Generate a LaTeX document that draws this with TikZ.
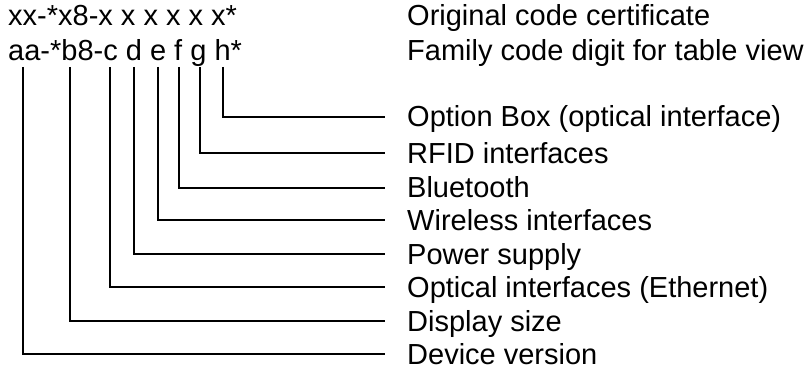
\documentclass[tikz,border=0pt]{standalone}
\usepackage{fontspec}
\setmainfont{Liberation Sans}
\begin{document}
\begin{tikzpicture}[x=1pt,y=-1pt,
  txt/.style={anchor=base west,inner sep=0pt,font=\fontsize{29}{34}\selectfont},
  conn/.style={line width=1.6pt,line cap=butt,line join=miter}]
\useasboundingbox (0,0) rectangle (808,369);
% code rows
\node[txt] (orig) at (8,26) {xx-*x8-x x x x x x*};
\node[txt] (fam) at (8,60) {aa-*b8-c d e f g h*};
\node[txt] (origL) at (407,26) {Original code certificate};
\node[txt] (famL) at (407,60) {Family code digit for table view};
% labels
\node[txt] (lh) at (407,126) {Option Box (optical interface)};
\node[txt] (lg) at (407,163) {RFID interfaces};
\node[txt] (lf) at (407,197) {Bluetooth};
\node[txt] (le) at (407,230) {Wireless interfaces};
\node[txt] (ld) at (407,264) {Power supply};
\node[txt] (lc) at (407,297) {Optical interfaces (Ethernet)};
\node[txt] (lb) at (407,331) {Display size};
\node[txt] (la) at (407,364) {Device version};
% tops of connectors under the letters
\coordinate (ta) at (23,67);
\coordinate (tb) at (70,67);
\coordinate (tc) at (110,67);
\coordinate (td) at (134,67);
\coordinate (te) at (158,67);
\coordinate (tf) at (179,67);
\coordinate (tg) at (200,67);
\coordinate (th) at (223,67);
% connector ends
\coordinate (eh) at (385,117);
\coordinate (eg) at (385,153);
\coordinate (ef) at (385,188);
\coordinate (ee) at (385,220);
\coordinate (ed) at (385,254);
\coordinate (ec) at (385,287);
\coordinate (eb) at (385,321);
\coordinate (ea) at (385,354);
\foreach \k in {a,b,c,d,e,f,g,h}
  \draw[conn] (t\k) |- (e\k);
\end{tikzpicture}
\end{document}
